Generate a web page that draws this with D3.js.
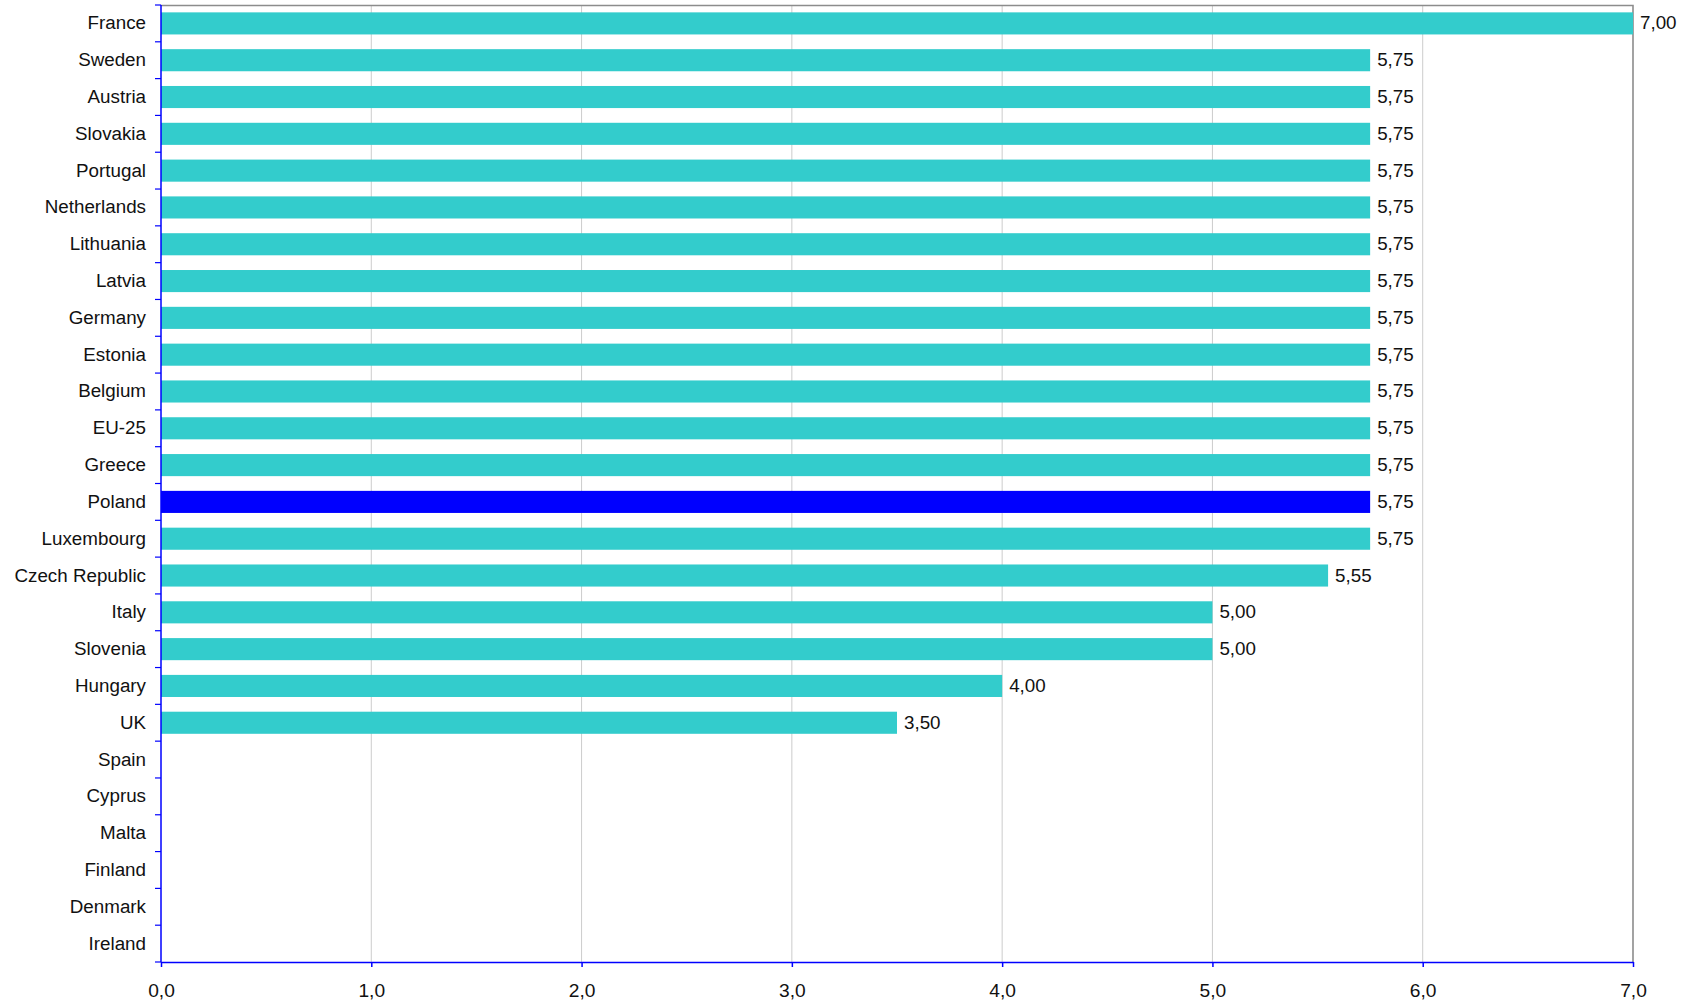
<!DOCTYPE html>
<html>
<head>
<meta charset="utf-8">
<script src="https://cdn.jsdelivr.net/npm/d3@7"></script>
<style>
  html, body { margin: 0; padding: 0; background: #fff; }
  svg { display: block; font-family: "Liberation Sans", Arial, sans-serif; }
</style>
</head>
<body>
<svg id="chart" width="1691" height="1005"></svg>
<script>
// chart data
const countries = ['France', 'Sweden', 'Austria', 'Slovakia', 'Portugal', 'Netherlands',
  'Lithuania', 'Latvia', 'Germany', 'Estonia', 'Belgium', 'EU-25', 'Greece', 'Poland',
  'Luxembourg', 'Czech Republic', 'Italy', 'Slovenia', 'Hungary', 'UK', 'Spain', 'Cyprus',
  'Malta', 'Finland', 'Denmark', 'Ireland'];
const values = [7.00, 5.75, 5.75, 5.75, 5.75, 5.75, 5.75, 5.75, 5.75, 5.75, 5.75, 5.75,
  5.75, 5.75, 5.75, 5.55, 5.00, 5.00, 4.00, 3.50, null, null, null, null, null, null];
const xTicks = [0, 1, 2, 3, 4, 5, 6, 7];
const highlight = 'Poland';

const data = countries.map((c, i) => ({ name: c, value: values[i] }));

const width = 1691, height = 1005;
const margin = { top: 5, right: 58, bottom: 43, left: 161 };
const innerW = width - margin.left - margin.right;
const innerH = height - margin.top - margin.bottom;

const fmt = v => d3.format('.2f')(v).replace('.', ',');
const fmtTick = v => d3.format('.1f')(v).replace('.', ',');

const svg = d3.select('#chart');
const g = svg.append('g').attr('transform', `translate(${margin.left},${margin.top})`);

const x = d3.scaleLinear().domain([0, 7]).range([0, innerW]);
const y = d3.scaleBand().domain(countries).range([0, innerH])
  .paddingInner(0.4).paddingOuter(0.2);

// gridlines
g.append('g').selectAll('line')
  .data(xTicks.filter(t => t > 0 && t < 7))
  .enter().append('line')
  .attr('x1', d => x(d)).attr('x2', d => x(d))
  .attr('y1', 0).attr('y2', innerH)
  .attr('stroke', '#cccccc').attr('stroke-width', 1);

// frame top and right
g.append('path')
  .attr('d', `M0,0.5H${innerW}V${innerH}`)
  .attr('fill', 'none').attr('stroke', '#8c8c8c').attr('stroke-width', 1.6);

// bars
g.append('g').selectAll('rect')
  .data(data.filter(d => d.value != null))
  .enter().append('rect')
  .attr('x', 0)
  .attr('y', d => y(d.name))
  .attr('width', d => x(d.value))
  .attr('height', y.bandwidth())
  .attr('fill', d => d.name === highlight ? '#0000ff' : '#33cccc');

// value labels
g.append('g').selectAll('text')
  .data(data.filter(d => d.value != null))
  .enter().append('text')
  .attr('x', d => x(d.value) + 7)
  .attr('y', d => y(d.name) + y.bandwidth() / 2)
  .attr('dy', '0.32em')
  .style('font-size', '18.8px')
  .style('fill', '#111')
  .text(d => fmt(d.value));

// x axis
const xAxis = g.append('g')
  .attr('transform', `translate(0,${innerH})`)
  .call(d3.axisBottom(x).tickValues(xTicks).tickFormat(fmtTick).tickSize(5).tickPadding(16).tickSizeOuter(0));
xAxis.select('.domain').attr('stroke', '#0000ff').attr('stroke-width', 1.5);
xAxis.selectAll('.tick line').attr('stroke', '#0000ff').attr('stroke-width', 1.5);
xAxis.selectAll('.tick text').style('font-size', '19.2px').style('fill', '#111')
  .style('font-family', '"Liberation Sans", Arial, sans-serif');

// y axis: line, boundary ticks, labels
const step = y.step();
const boundaries = countries.map(c => y(c) - (step - y.bandwidth()) / 2)
  .concat([y(countries[countries.length - 1]) + y.bandwidth() + (step - y.bandwidth()) / 2]);

g.append('line')
  .attr('x1', 0).attr('x2', 0).attr('y1', 0).attr('y2', innerH)
  .attr('stroke', '#0000ff').attr('stroke-width', 1.5);

g.append('g').selectAll('line')
  .data(boundaries)
  .enter().append('line')
  .attr('x1', -6).attr('x2', 0)
  .attr('y1', d => d).attr('y2', d => d)
  .attr('stroke', '#0000ff').attr('stroke-width', 1.2);

g.append('g').selectAll('text')
  .data(countries)
  .enter().append('text')
  .attr('x', -15)
  .attr('y', d => y(d) + y.bandwidth() / 2)
  .attr('dy', '0.32em')
  .attr('text-anchor', 'end')
  .style('font-size', '18.8px')
  .style('fill', '#111')
  .text(d => d);
</script>
</body>
</html>
